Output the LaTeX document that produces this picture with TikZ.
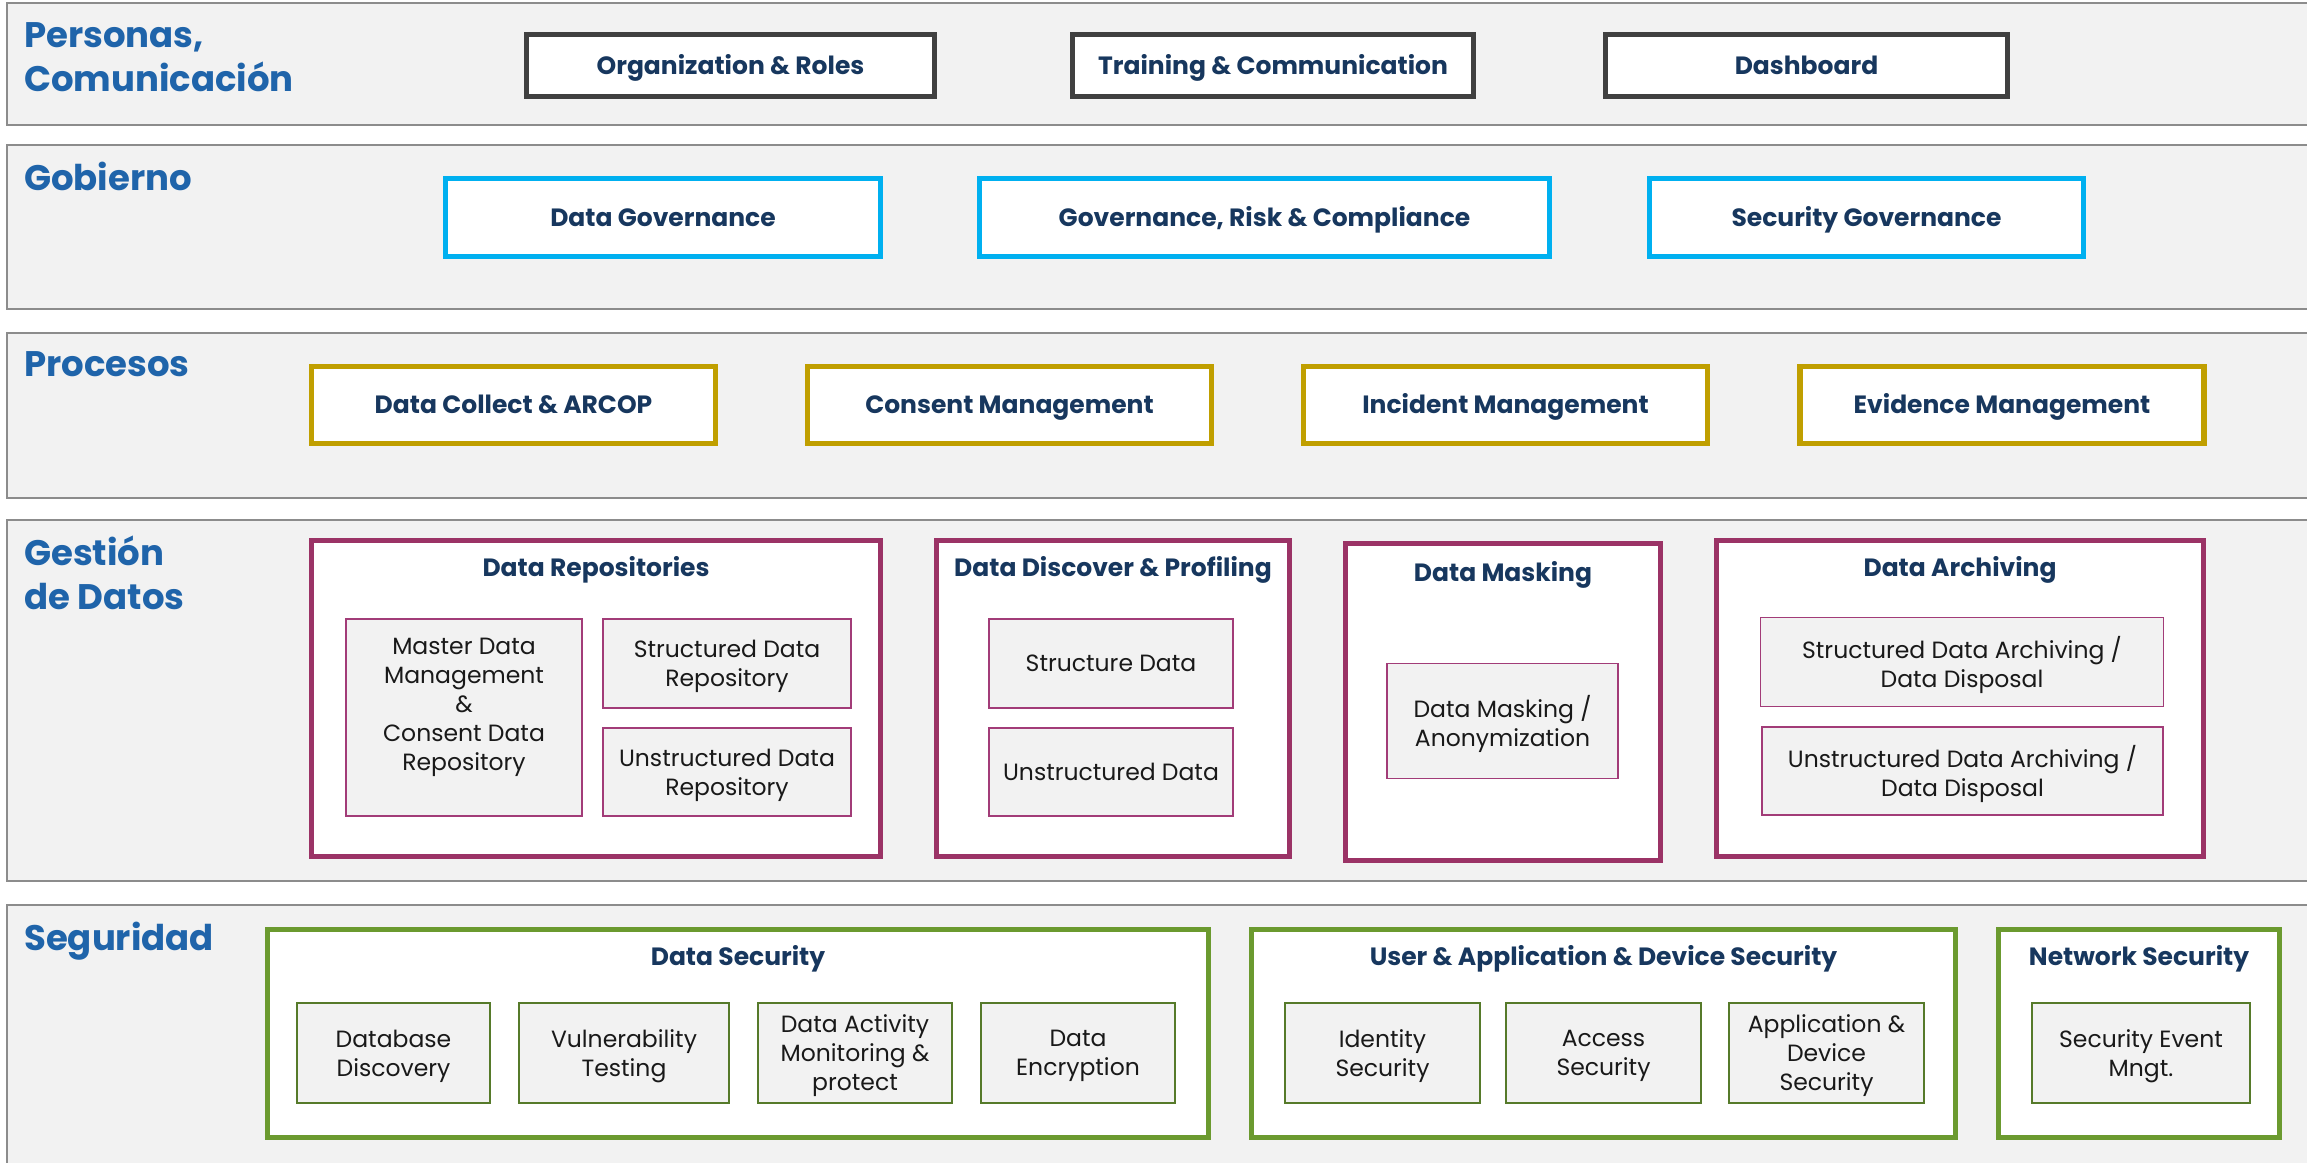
\documentclass[tikz,border=0pt]{standalone}
\usepackage{fontspec}
\setmainfont{Poppins}
\definecolor{bandgray}{HTML}{F2F2F2}
\definecolor{bandline}{HTML}{8C8C8C}
\definecolor{sectblue}{HTML}{1F64AA}
\definecolor{navy}{HTML}{17375E}
\definecolor{darkline}{HTML}{404040}
\definecolor{govcyan}{HTML}{00B0F0}
\definecolor{procgold}{HTML}{C09F00}
\definecolor{plum}{HTML}{9B3366}
\definecolor{plumthin}{HTML}{A23C78}
\definecolor{secgreen}{HTML}{6B9A2F}
\definecolor{greenthin}{HTML}{567A2A}
\begin{document}
\begin{tikzpicture}[x=1pt,y=-1pt,
  band/.style={draw=bandline,fill=bandgray,line width=2},
  sect/.style={anchor=base west,inner sep=0,text=sectblue,align=left,
    font=\bfseries\fontsize{35.5}{44}\selectfont},
  hdr/.style={draw=#1,line width=5.5,fill=white,text=navy,inner sep=0,
    text height=17.5pt,text depth=0pt,
    font=\bfseries\fontsize{25}{30}\selectfont},
  frame/.style={draw=#1,line width=5.5,fill=white},
  ttl/.style={anchor=base,inner sep=0,text=navy,font=\bfseries\fontsize{25}{30}\selectfont},
  item/.style={draw=#1,line width=1.5,fill=bandgray,inner sep=0,align=center,
    text depth=0pt,text=black!90,font=\fontsize{23.5}{29}\selectfont}]
\useasboundingbox (0,0) rectangle (2307,1162);

\draw[band] (7,3) rectangle (2330,125);
\draw[band] (7,145) rectangle (2330,309);
\draw[band] (7,333) rectangle (2330,498);
\draw[band] (7,520) rectangle (2330,881);
\draw[band] (7,905) rectangle (2330,1190);

\node[sect] (personas) at (24,91) {Personas,\\Comunicación};
\node[sect] (gobierno) at (24,190) {Gobierno};
\node[sect] (procesos) at (24,376) {Procesos};
\node[sect] (gestion) at (24,609) {Gestión\\de Datos};
\node[sect] (seguridad) at (24,950) {Seguridad};

\node[hdr=darkline,minimum width=408,minimum height=62] (org) at (730.5,65.5) {Organization \& Roles};
\node[hdr=darkline,minimum width=401,minimum height=62] (training) at (1273,65.5) {Training \& Communication};
\node[hdr=darkline,minimum width=402,minimum height=62] (dashboard) at (1806.5,65.5) {Dashboard};

\node[hdr=govcyan,minimum width=435,minimum height=78] (datagov) at (663,217.5) {Data Governance};
\node[hdr=govcyan,minimum width=570,minimum height=78] (grc) at (1264.5,217.5) {Governance, Risk \& Compliance};
\node[hdr=govcyan,minimum width=434,minimum height=78] (secgov) at (1866.5,217.5) {Security Governance};

\node[hdr=procgold,minimum width=404,minimum height=77] (collect) at (513.5,405) {Data Collect \& ARCOP};
\node[hdr=procgold,minimum width=404,minimum height=77] (consent) at (1009.5,405) {Consent Management};
\node[hdr=procgold,minimum width=404,minimum height=77] (incident) at (1505.5,405) {Incident Management};
\node[hdr=procgold,minimum width=404,minimum height=77] (evidence) at (2002,405) {Evidence Management};

\node[frame=plum,minimum width=569,minimum height=316] (repos) at (596,698.5) {};
\node[frame=plum,minimum width=353,minimum height=316] (discover) at (1113,698.5) {};
\node[frame=plum,minimum width=315,minimum height=317] (masking) at (1503,702) {};
\node[frame=plum,minimum width=487,minimum height=316] (archiving) at (1960,698.5) {};
\node[ttl] (reposttl) at (596,576) {Data Repositories};
\node[ttl] (discoverttl) at (1113,576) {Data Discover \& Profiling};
\node[ttl] (maskingttl) at (1503,581) {Data Masking};
\node[ttl] (archivingttl) at (1960,576) {Data Archiving};

\node[item=plumthin,minimum width=236,minimum height=197,text depth=26pt] (master) at (464,717.5) {Master Data\\Management\\\&\\Consent Data\\Repository};
\node[item=plumthin,minimum width=248,minimum height=89] (strrepo) at (727,663.5) {Structured Data\\Repository};
\node[item=plumthin,minimum width=248,minimum height=88] (unstrrepo) at (727,772) {Unstructured Data\\Repository};
\node[item=plumthin,minimum width=244,minimum height=89] (strdata) at (1111,663.5) {Structure Data};
\node[item=plumthin,minimum width=244,minimum height=88] (unstrdata) at (1111,772) {Unstructured Data};
\node[item=plumthin,minimum width=231,minimum height=115] (anonym) at (1502.5,721) {Data Masking /\\Anonymization};
\node[item=plumthin,minimum width=403,minimum height=89] (strarch) at (1962,662) {Structured Data Archiving /\\Data Disposal};
\node[item=plumthin,minimum width=401,minimum height=88] (unstrarch) at (1962.5,771) {Unstructured Data Archiving /\\Data Disposal};

\node[frame=secgreen,minimum width=941,minimum height=208] (datasec) at (738,1033.5) {};
\node[frame=secgreen,minimum width=704,minimum height=208] (userapp) at (1603.5,1033.5) {};
\node[frame=secgreen,minimum width=281,minimum height=208] (netsec) at (2139,1033.5) {};
\node[ttl] (datasecttl) at (738,965) {Data Security};
\node[ttl] (userappttl) at (1603.5,965) {User \& Application \& Device Security};
\node[ttl] (netsecttl) at (2139,965) {Network Security};

\node[item=greenthin,minimum width=193,minimum height=100] (dbdisc) at (393.5,1053) {Database\\Discovery};
\node[item=greenthin,minimum width=210,minimum height=100] (vuln) at (624,1053) {Vulnerability\\Testing};
\node[item=greenthin,minimum width=194,minimum height=100] (dam) at (855,1053) {Data Activity\\Monitoring \&\\protect};
\node[item=greenthin,minimum width=194,minimum height=100] (encrypt) at (1078,1053) {Data\\Encryption};
\node[item=greenthin,minimum width=195,minimum height=100] (identity) at (1382.5,1053) {Identity\\Security};
\node[item=greenthin,minimum width=195,minimum height=100] (access) at (1603.5,1053) {Access\\Security};
\node[item=greenthin,minimum width=195,minimum height=100] (appdev) at (1826.5,1053) {Application \&\\Device\\Security};
\node[item=greenthin,minimum width=218,minimum height=100] (siem) at (2141,1053) {Security Event\\Mngt.};
\end{tikzpicture}
\end{document}
